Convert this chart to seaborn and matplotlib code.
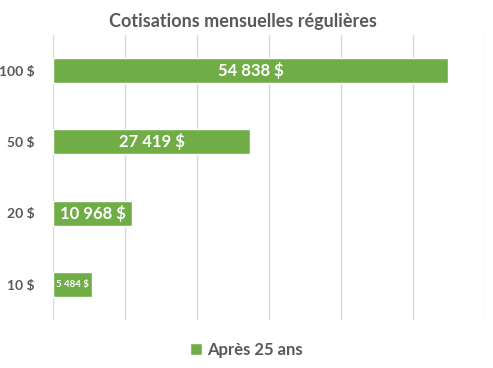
import pandas as pd
import numpy as np
import matplotlib.pyplot as plt
import seaborn as sns

# Data
categories = ['100 $', '50 $', '20 $', '10 $']
values = [54838, 27419, 10968, 5484]
label_sizes = [12, 12, 12, 7]
series_name = 'Après 25 ans'

df = pd.DataFrame({'Cotisation': categories, 'Valeur': values, 'Série': series_name})

sns.set_style('white')
plt.rcParams['font.family'] = ['Lato', 'DejaVu Sans']

green = '#70AD47'
gray = '#595959'

fig = plt.figure(figsize=(4.93, 3.68), dpi=100)
ax = fig.add_axes([0.1075, 0.13, 0.8765, 0.775])

sns.barplot(data=df, y='Cotisation', x='Valeur', hue='Série', palette=[green],
            orient='h', width=0.35, saturation=1, ax=ax, legend=True)

ax.set_xlim(0, 60000)
ax.set_xticks(np.arange(0, 60001, 10000))
ax.set_xticklabels([])
ax.tick_params(axis='x', length=0)
ax.tick_params(axis='y', length=0, pad=13)
ax.grid(axis='x', color='#D9D9D9', linewidth=1)
ax.set_axisbelow(True)
for s in ax.spines.values():
    s.set_visible(False)
for lbl in ax.get_yticklabels():
    lbl.set_fontsize(10)
    lbl.set_fontweight('bold')
    lbl.set_color(gray)
ax.set_xlabel('')
ax.set_ylabel('')

# Value labels centred in bars
for i, (v, fs) in enumerate(zip(values, label_sizes)):
    txt = f'{v:,}'.replace(',', ' ') + ' $'
    ax.text(v / 2, i, txt, ha='center', va='center', color='white',
            fontsize=fs, fontweight='bold')

fig.suptitle('Cotisations mensuelles régulières', x=0.492, y=0.965, fontsize=13,
             color=gray, fontweight='bold')

handles, labels = ax.get_legend_handles_labels()
ax.get_legend().remove()
leg = fig.legend(handles, labels, loc='center', bbox_to_anchor=(0.5, 0.05),
                 frameon=False, handlelength=0.7, handleheight=0.7,
                 handletextpad=0.3, prop={'size': 12, 'weight': 'bold'})
for t in leg.get_texts():
    t.set_color(gray)

fig.savefig('out.png', dpi=100)
